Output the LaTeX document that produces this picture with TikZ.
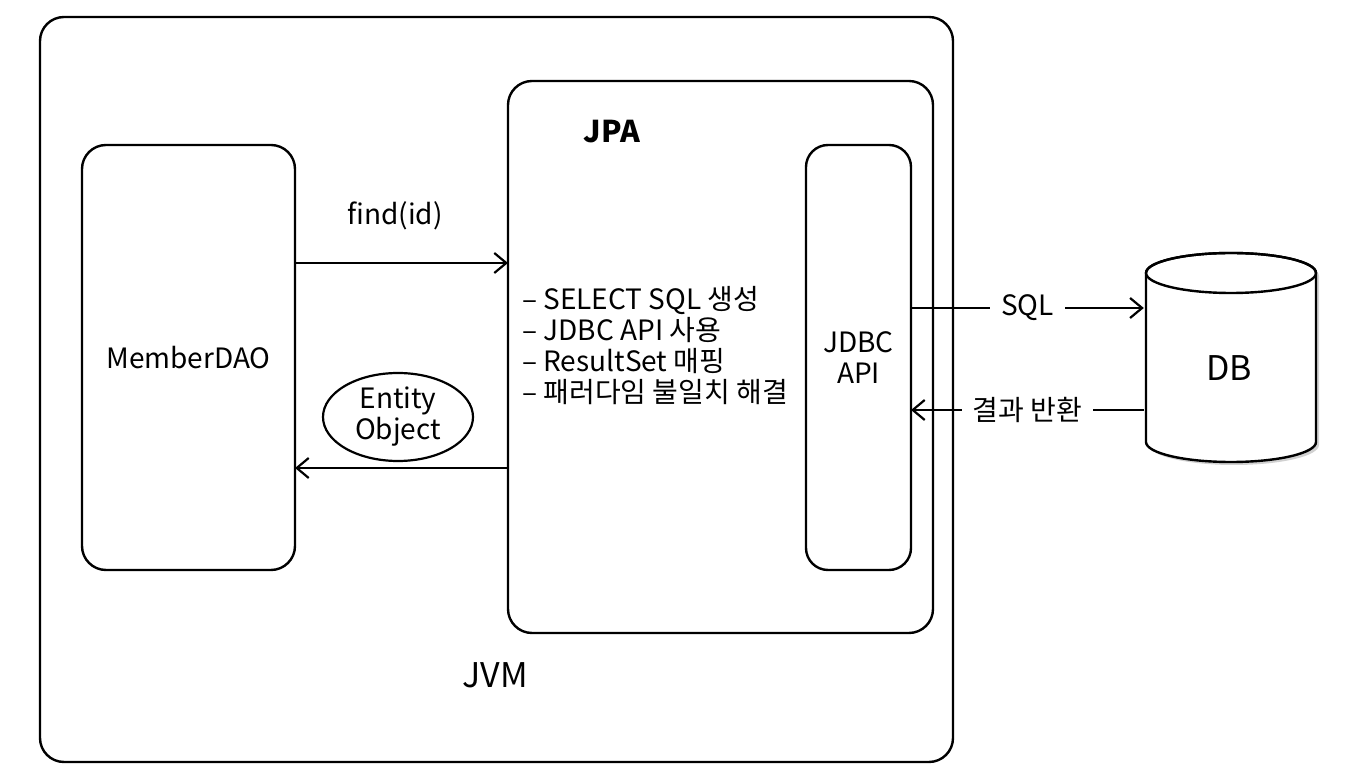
\documentclass[tikz,border=0pt]{standalone}
\usepackage{fontspec}
\setmainfont{Noto Sans CJK KR}
\usetikzlibrary{arrows.meta,positioning,shapes.geometric}

\tikzset{
  box/.style={draw, line width=2.4pt, rounded corners=24pt, inner sep=0pt, outer sep=0pt},
  lbl/.style={font=\fontsize{28}{31}\selectfont, inner sep=0pt},
  biglbl/.style={font=\fontsize{34}{36}\selectfont, inner sep=0pt},
  arr/.style={line width=2.2pt, -{Straight Barb[length=12pt,width=20pt,line width=2.2pt]}},
}

\begin{document}
\begin{tikzpicture}[x=1pt,y=1pt]
\useasboundingbox (0,0) rectangle (1360,782);
%boxes
\node[box, minimum width=913pt, minimum height=745pt] (jvm) at (496.5,392.5) {};
\node[box, lbl, minimum width=213pt, minimum height=425pt] (dao) at (188.5,424.5) {MemberDAO};
\node[box, minimum width=425pt, minimum height=552pt] (jpa) at (720.5,425) {};
\node[box, lbl, align=center, rounded corners=22pt, minimum width=105pt, minimum height=425pt] (jdbc) at (858.5,424.5) {JDBC\\API};
\node[biglbl] (jvmlabel) at (495,107) {JVM};
\node[lbl, font=\fontsize{30}{32}\selectfont\bfseries] (jpalabel) at (612,650) {JPA};
\node[lbl, align=left, anchor=west] (tasks) at (522,436.5) {– SELECT SQL 생성\\– JDBC API 사용\\– ResultSet 매핑\\– 패러다임 불일치 해결};
%find / entity
\node[lbl] (find) at (395,566) {find(id)};
\node[lbl, draw, ellipse, align=center, line width=2.2pt, minimum width=150pt, minimum height=88pt] (entity) at (398,365) {Entity\\Object};
\draw[arr] (dao.east |- 0,519) -- (jpa.west |- 0,519);
\draw[arr] (jpa.west |- 0,314) -- (dao.east |- 0,314);
%db
\fill[black!18, xshift=3pt, yshift=-3pt] (1146,509) -- (1146,340) arc[start angle=180, end angle=360, x radius=85, y radius=20] -- (1316,509) arc[start angle=0, end angle=180, x radius=85, y radius=20] -- cycle;
\draw[fill=white, line width=2.4pt] (1146,509) -- (1146,340) arc[start angle=180, end angle=360, x radius=85, y radius=20] -- (1316,509) arc[start angle=0, end angle=180, x radius=85, y radius=20] -- cycle;
\draw[line width=2.4pt] (1231,509) ellipse[x radius=85, y radius=20];
\node[biglbl, minimum width=170pt, minimum height=150pt] (db) at (1229,414) {DB};
\draw[arr] (jdbc.east |- 0,474) -- node[lbl, fill=white, inner xsep=11pt, inner ysep=3pt] (sql) {SQL} (db.west |- 0,474);
\draw[arr] (db.west |- 0,372) -- node[lbl, fill=white, inner xsep=11pt, inner ysep=3pt] (result) {결과 반환} (jdbc.east |- 0,372);
\end{tikzpicture}
\end{document}
